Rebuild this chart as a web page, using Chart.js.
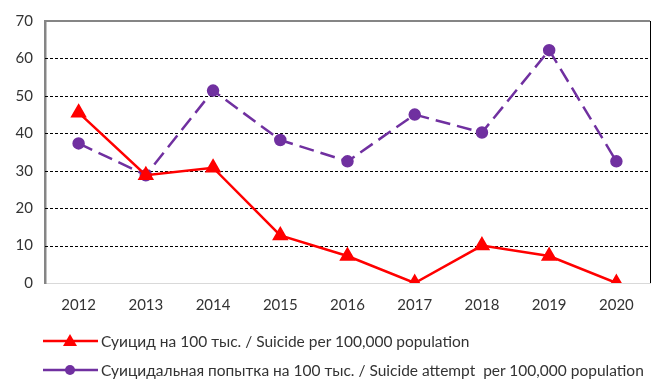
<!DOCTYPE html>
<html><head><meta charset="utf-8">
<script src="https://cdn.jsdelivr.net/npm/chart.js@4/dist/chart.umd.min.js"></script>
<style>
html,body{margin:0;padding:0;background:#fff;}
#wrap{position:relative;width:671px;height:392px;}
#legend{position:absolute;left:0;top:326px;font-family:Lato, "Open Sans", sans-serif;font-size:15.5px;color:#333;white-space:pre;}
.item{display:flex;align-items:center;height:29px;}
.item svg{margin-left:43px;margin-right:3px;}
</style></head>
<body>
<div id="wrap"><canvas id="c" width="671" height="392"></canvas>
<div id="legend"></div></div>
<script>
const years = ['2012','2013','2014','2015','2016','2017','2018','2019','2020'];
const suicide = [45.5, 28.8, 30.8, 12.7, 7.2, 0, 10, 7.2, 0];
const attempt = [37.3, 28.8, 51.4, 38.2, 32.5, 45, 40.2, 62.2, 32.5];
const seriesNames = ['Суицид на 100 тыс. / Suicide per 100,000 population',
  'Суицидальная попытка на 100 тыс. / Suicide attempt  per 100,000 population'];
const yTicks = [0,10,20,30,40,50,60,70];

const frame = {
  id:'frame',
  beforeDatasetsDraw(chart){
    const {ctx, chartArea:a, scales:{y}} = chart;
    ctx.save();
    ctx.strokeStyle='#000'; ctx.lineWidth=1; ctx.setLineDash([3,2]);
    yTicks.filter(v=>v>0 && v<70).forEach(v=>{
      const py = Math.round(y.getPixelForValue(v))+0.5;
      ctx.beginPath(); ctx.moveTo(a.left,py); ctx.lineTo(a.right,py); ctx.stroke();
    });
    ctx.setLineDash([]);
    ctx.strokeStyle='#858585'; ctx.lineWidth=2;
    ctx.beginPath(); ctx.moveTo(a.left-1,a.top); ctx.lineTo(a.right,a.top); ctx.stroke();
    ctx.strokeStyle='#000'; ctx.lineWidth=1;
    ctx.beginPath(); ctx.moveTo(a.right+0.5,a.top); ctx.lineTo(a.right+0.5,a.bottom); ctx.stroke();
    ctx.restore();
  }
};

new Chart(document.getElementById('c'), {
  type:'line',
  data:{labels:years, datasets:[
    {label:seriesNames[0], data:suicide, borderColor:'#FF0000', backgroundColor:'#FF0000',
     borderWidth:2.5, pointStyle:'triangle', pointRadius:7, pointHoverRadius:7, tension:0, order:1},
    {label:seriesNames[1], data:attempt, borderColor:'#7030A0', backgroundColor:'#7030A0',
     borderWidth:2.5, borderDash:[15,7], pointStyle:'circle', pointRadius:5, pointHoverRadius:5, tension:0, order:2}
  ]},
  options:{
    responsive:false, animation:false,
    layout:{padding:{left:0,right:21,top:14,bottom:65}},
    plugins:{legend:{display:false}, tooltip:{enabled:false}},
    scales:{
      x:{offset:true, grid:{display:false, drawTicks:false},
         border:{color:'#d9d9d9', width:1},
         ticks:{padding:13, color:'#333', font:{family:'Lato', size:15}}},
      y:{min:0, max:70, afterFit(s){s.width=45;},
         afterBuildTicks(s){s.ticks = yTicks.map(v=>({value:v}));},
         grid:{display:false, drawTicks:false},
         border:{color:'#858585', width:2.5},
         ticks:{padding:12, color:'#333', font:{family:'Lato', size:15}}}
    }
  },
  plugins:[frame]
});

const lg = document.getElementById('legend');
const mk = [
 '<polygon points="27,1 34,13 20,13" fill="#FF0000"/>',
 '<circle cx="27" cy="8" r="5" fill="#7030A0"/>'];
const cols = ['#FF0000','#7030A0'];
seriesNames.forEach((n,i)=>{
  const d=document.createElement('div'); d.className='item';
  d.innerHTML = '<svg width="55" height="16"><line x1="0" y1="8" x2="55" y2="8" stroke="'+cols[i]+'" stroke-width="2.5"/>'+mk[i]+'</svg><span>'+n+'</span>';
  lg.appendChild(d);
});
</script>
</body></html>
